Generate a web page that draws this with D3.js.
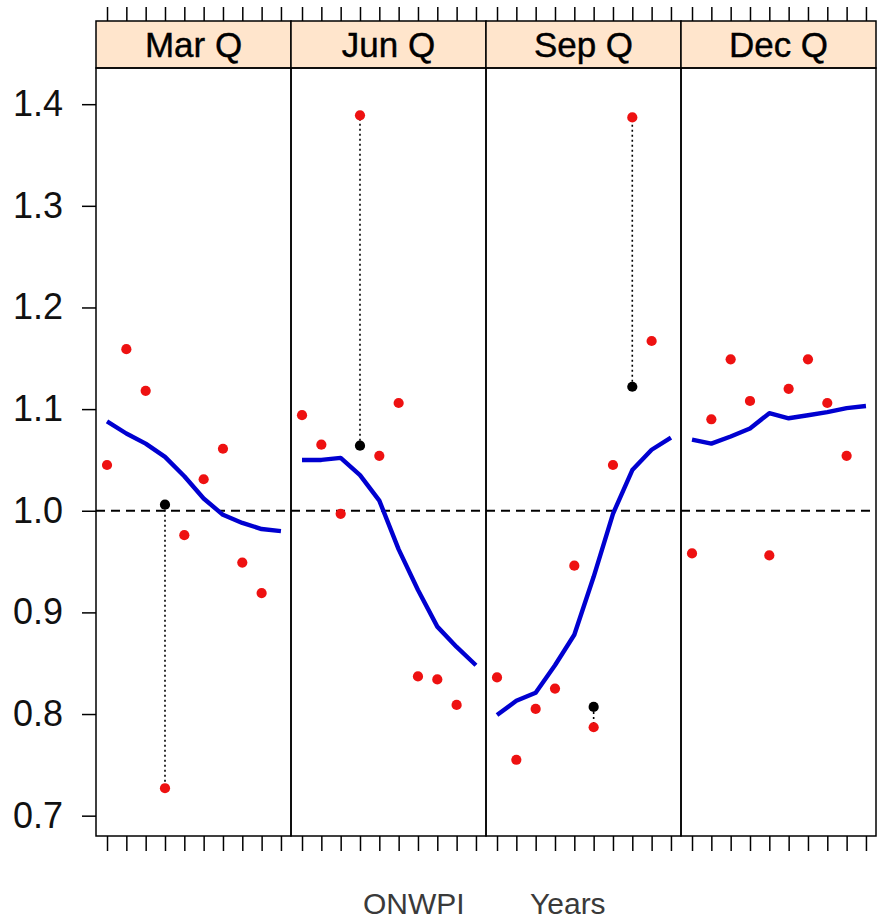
<!DOCTYPE html>
<html>
<head>
<meta charset="utf-8">
<script src="https://cdnjs.cloudflare.com/ajax/libs/d3/7.8.5/d3.min.js"></script>
<style>
  body { margin: 0; background: #fff; }
  svg { display: block; font-family: "Liberation Sans", Arial, sans-serif; }
</style>
</head>
<body>
<svg id="chart" width="878" height="921"></svg>
<script>
// seasonal sub-series of the ratio, one panel per quarter
var quarters = ["Mar Q", "Jun Q", "Sep Q", "Dec Q"];
var years = [1, 2, 3, 4, 5, 6, 7, 8, 9, 10];
var yTicks = [0.7, 0.8, 0.9, 1.0, 1.1, 1.2, 1.3, 1.4];

// observed ratios (years 1..9)
var marQ = [1.045, 1.159, 1.118, 0.727, 0.976, 1.031, 1.061, 0.949, 0.919];
var junQ = [1.094, 1.065, 0.997, 1.389, 1.054, 1.106, 0.837, 0.834, 0.809];
var sepQ = [0.836, 0.755, 0.805, 0.825, 0.946, 0.787, 1.045, 1.387, 1.167];
var decQ = [0.958, 1.090, 1.149, 1.108, 0.956, 1.120, 1.149, 1.106, 1.054];

// smoothed seasonal factors (years 1..10)
var marFit = [1.088, 1.076, 1.066, 1.053, 1.034, 1.012, 0.996, 0.988, 0.982, 0.980];
var junFit = [1.050, 1.050, 1.052, 1.035, 1.010, 0.962, 0.922, 0.886, 0.866, 0.848];
var sepFit = [0.799, 0.813, 0.821, 0.848, 0.878, 0.935, 0.997, 1.040, 1.060, 1.072];
var decFit = [1.070, 1.066, 1.073, 1.081, 1.096, 1.091, 1.094, 1.097, 1.101, 1.103];

// replaced (outlier-adjusted) values
var adjQuarter = [0, 1, 2, 2];
var adjYear = [4, 4, 6, 8];
var adjValue = [1.006, 1.064, 0.807, 1.122];

var observed = [marQ, junQ, sepQ, decQ];
var fitted = [marFit, junFit, sepFit, decFit];

var svg = d3.select("#chart");
var plotLeft = 96, plotRight = 876, plotTop = 68, plotBottom = 836, stripTop = 21;
var panelW = (plotRight - plotLeft) / quarters.length;

var y = d3.scaleLinear().domain([0.68, 1.4356]).range([plotBottom, plotTop]);

function xScale(q) {
    return d3.scaleLinear().domain([0.43, 10.52])
        .range([plotLeft + q * panelW, plotLeft + (q + 1) * panelW]);
}

// y axis
var yAxis = svg.append("g")
    .attr("transform", "translate(" + plotLeft + ",0)")
    .call(d3.axisLeft(y).tickValues(yTicks).tickSize(14).tickPadding(19)
        .tickFormat(d3.format(".1f")));
yAxis.select(".domain").remove();
yAxis.selectAll("line").attr("stroke", "#000").attr("stroke-width", 1.5);
yAxis.selectAll("text").attr("font-size", "36px").attr("fill", "#111")
    .attr("font-family", "Liberation Sans, Arial, sans-serif");

var line = d3.line();

quarters.forEach(function(name, q) {
    var x = xScale(q);
    var x0 = plotLeft + q * panelW;
    var g = svg.append("g");

    // strip
    g.append("rect").attr("x", x0).attr("y", stripTop)
        .attr("width", panelW).attr("height", plotTop - stripTop)
        .attr("fill", "#ffe5cc").attr("stroke", "#000").attr("stroke-width", 1.5);
    g.append("text").attr("x", x0 + panelW / 2).attr("y", 57)
        .attr("text-anchor", "middle").attr("font-size", "35px")
        .attr("fill", "#000").attr("stroke", "#000").attr("stroke-width", 0.4)
        .text(name);

    // ticks top and bottom
    var bx = g.append("g").attr("transform", "translate(0," + plotBottom + ")")
        .call(d3.axisBottom(x).tickValues(years).tickSize(15).tickFormat(""));
    var tx = g.append("g").attr("transform", "translate(0," + stripTop + ")")
        .call(d3.axisTop(x).tickValues(years).tickSize(14).tickFormat(""));
    [bx, tx].forEach(function(a) {
        a.select(".domain").remove();
        a.selectAll("line").attr("stroke", "#000").attr("stroke-width", 1.5);
    });

    // reference line at 1
    g.append("line").attr("x1", x0).attr("x2", x0 + panelW)
        .attr("y1", y(1)).attr("y2", y(1))
        .attr("stroke", "#000").attr("stroke-width", 2)
        .attr("stroke-dasharray", "9,6");

    // dotted links from adjusted to observed
    adjQuarter.forEach(function(aq, i) {
        if (aq !== q) return;
        var yr = adjYear[i];
        g.append("line").attr("x1", x(yr)).attr("x2", x(yr))
            .attr("y1", y(adjValue[i])).attr("y2", y(observed[q][yr - 1]))
            .attr("stroke", "#000").attr("stroke-width", 1.6)
            .attr("stroke-dasharray", "2,3");
    });

    // smoothed line
    g.append("path")
        .attr("d", line(fitted[q].map(function(v, i) { return [x(years[i]), y(v)]; })))
        .attr("fill", "none").attr("stroke", "#0000d0").attr("stroke-width", 4.4)
        .attr("stroke-linejoin", "round");

    // observed points
    g.selectAll("circle.obs").data(observed[q]).enter().append("circle")
        .attr("class", "obs")
        .attr("cx", function(d, i) { return x(years[i]); })
        .attr("cy", function(d) { return y(d); })
        .attr("r", 5.1).attr("fill", "#ee1111");

    // adjusted points
    adjQuarter.forEach(function(aq, i) {
        if (aq !== q) return;
        g.append("circle").attr("cx", x(adjYear[i])).attr("cy", y(adjValue[i]))
            .attr("r", 5.1).attr("fill", "#000");
    });

    // panel frame
    g.append("rect").attr("x", x0).attr("y", plotTop)
        .attr("width", panelW).attr("height", plotBottom - plotTop)
        .attr("fill", "none").attr("stroke", "#000").attr("stroke-width", 1.5);
});

// axis labels
svg.append("text").attr("x", 363).attr("y", 914).attr("font-size", "30px")
    .attr("fill", "#3a3a3a").text("ONWPI");
svg.append("text").attr("x", 530).attr("y", 914).attr("font-size", "30px")
    .attr("fill", "#3a3a3a").text("Years");
</script>
</body>
</html>
